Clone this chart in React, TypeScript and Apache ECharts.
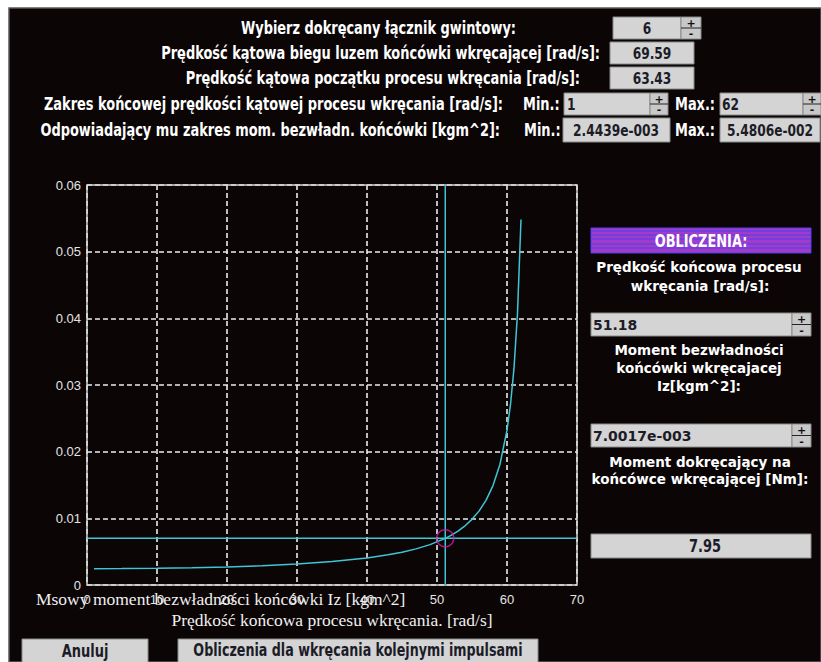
import React, { useEffect, useRef } from "react";
import * as echarts from "echarts";

// ---- data ----
const omega = [1, 5, 10, 15, 20, 25, 30, 35, 40, 43, 45, 47, 49, 51.18, 52, 53, 54, 55, 56, 57, 58, 59, 60, 60.5, 61, 61.5, 62];
const inertia = [
  0.002444, 0.002459, 0.002506, 0.002588, 0.002713, 0.002893, 0.003148, 0.003513, 0.004057, 0.004521,
  0.00492, 0.005419, 0.00606, 0.0070017, 0.007452, 0.008096, 0.008878, 0.009848, 0.01108, 0.012697,
  0.014911, 0.018128, 0.023225, 0.027079, 0.032521, 0.040784, 0.05483,
];
const selectedOmega = 51.18;
const selectedInertia = 0.0070017;
const xTicks = [0, 10, 20, 30, 40, 50, 60, 70];
const yTicks = [0, 0.01, 0.02, 0.03, 0.04, 0.05, 0.06];

const topLabels = [
  "Wybierz dokręcany łącznik gwintowy:",
  "Prędkość kątowa biegu luzem końcówki wkręcającej [rad/s]:",
  "Prędkość kątowa początku procesu wkręcania [rad/s]:",
  "Zakres końcowej prędkości kątowej procesu wkręcania [rad/s]:",
  "Odpowiadający mu zakres mom. bezwładn. końcówki [kgm^2]:",
];
const fieldValues = ["6", "69.59", "63.43", "1", "62", "2.4439e-003", "5.4806e-002"];
const resultValues = ["51.18", "7.0017e-003", "7.95"];

const NARROW = "'Liberation Sans Narrow', 'Arial Narrow', 'DejaVu Sans Condensed', sans-serif";
const PANEL = "'DejaVu Sans', 'Liberation Sans', sans-serif";
const SERIF = "'Liberation Serif', 'DejaVu Serif', serif";

function txt(text: string, x: number, y: number, align: string, font: string, fill = "#ffffff", z = 10, sx = 1) {
  return {
    type: "text",
    x,
    y,
    z,
    scaleX: sx,
    silent: true,
    style: {
      text,
      fill,
      font,
      align,
      textAlign: align,
      verticalAlign: "middle",
      textVerticalAlign: "middle",
    },
  };
}

function box(x: number, y: number, w: number, h: number, fill = "#d4d4d4") {
  return {
    type: "rect",
    shape: { x, y, width: w, height: h },
    z: 5,
    silent: true,
    style: { fill, stroke: "#8a8a8a", lineWidth: 1 },
  };
}

function spinner(x: number, y: number, w: number, h: number) {
  return [
    box(x, y, w, h, "#c8c8c8"),
    {
      type: "line",
      z: 6,
      silent: true,
      shape: { x1: x, y1: y + h / 2, x2: x + w, y2: y + h / 2 },
      style: { stroke: "#222", lineWidth: 1 },
    },
    txt("+", x + w / 2, y + h / 4 + 0.5, "center", `bold 11px ${PANEL}`, "#111", 7),
    txt("-", x + w / 2, y + (3 * h) / 4, "center", `bold 11px ${PANEL}`, "#111", 7),
  ];
}

export default function App() {
  const ref = useRef<HTMLDivElement>(null);

  useEffect(() => {
    if (!ref.current) return;
    const chart = echarts.init(ref.current, undefined, { renderer: "svg" });
    const curve = omega.map((w, i) => [w, inertia[i]]);
    const xMin = xTicks[0];
    const xMax = xTicks[xTicks.length - 1];
    const yMin = yTicks[0];
    const yMax = yTicks[yTicks.length - 1];
    const rowY = [28, 53, 78, 104, 130];
    const fTop = `bold 18px ${NARROW}`;
    const fBox = `bold 16px ${NARROW}`;
    const fPanel = `bold 13.5px ${PANEL}`;
    const dark = "#1c1c28";
    const S = 0.8;

    const graphics: any[] = [
      {
        type: "rect",
        z: 0,
        silent: true,
        shape: { x: 9, y: 8, width: 812, height: 654 },
        style: { fill: "#0b0506", stroke: "#5a5a5a", lineWidth: 1.5 },
      },
      // top rows
      txt(topLabels[0], 516, rowY[0], "right", fTop, "#fff", 10, S),
      txt(topLabels[1], 600, rowY[1], "right", fTop, "#fff", 10, S),
      txt(topLabels[2], 580, rowY[2], "right", fTop, "#fff", 10, S),
      txt(topLabels[3], 503, rowY[3], "right", fTop, "#fff", 10, S),
      txt(topLabels[4], 500, rowY[4], "right", fTop, "#fff", 10, S),
      box(613, rowY[0] - 11, 68, 22),
      txt(fieldValues[0], 647, rowY[0], "center", fBox, dark, 10, 0.85),
      ...spinner(681, rowY[0] - 11, 20, 22),
      box(610, rowY[1] - 11, 84, 22),
      txt(fieldValues[1], 652, rowY[1], "center", fBox, dark, 10, 0.85),
      box(610, rowY[2] - 11, 84, 22),
      txt(fieldValues[2], 652, rowY[2], "center", fBox, dark, 10, 0.85),
      txt("Min.:", 523, rowY[3], "left", fTop, "#fff", 10, S),
      box(564, rowY[3] - 11, 86, 22),
      txt(fieldValues[3], 567, rowY[3], "left", fBox, dark, 10, 0.85),
      ...spinner(650, rowY[3] - 11, 18, 22),
      txt("Max.:", 675, rowY[3], "left", fTop, "#fff", 10, S),
      box(720, rowY[3] - 11, 83, 22),
      txt(fieldValues[4], 722, rowY[3], "left", fBox, dark, 10, 0.85),
      ...spinner(803, rowY[3] - 11, 18, 22),
      txt("Min.:", 524, rowY[4], "left", fTop, "#fff", 10, S),
      box(563, rowY[4] - 12, 107, 24),
      txt(fieldValues[5], 616, rowY[4], "center", fBox, dark, 10, 0.85),
      txt("Max.:", 675, rowY[4], "left", fTop, "#fff", 10, S),
      box(720, rowY[4] - 12, 100, 24),
      txt(fieldValues[6], 770, rowY[4], "center", fBox, dark, 10, 0.85),
      // right panel
      {
        type: "rect",
        z: 5,
        silent: true,
        shape: { x: 591, y: 228, width: 220, height: 25 },
        style: { fill: "#a03cc8", stroke: "#5040f0", lineWidth: 1 },
      },
      ...[231, 235, 239, 244, 248].map((yy) => ({
        type: "line",
        z: 6,
        silent: true,
        shape: { x1: 591, y1: yy, x2: 811, y2: yy },
        style: { stroke: "#4a3cf4", lineWidth: 1 },
      })),
      txt("OBLICZENIA:", 701, 241, "center", `bold 18px ${NARROW}`, "#ffffff", 8, S),
      txt("Prędkość końcowa procesu", 699, 267, "center", fPanel),
      txt("wkręcania [rad/s]:", 700, 286, "center", fPanel),
      box(591, 313, 201, 23),
      txt(resultValues[0], 593, 325, "left", `bold 14px ${PANEL}`, dark),
      ...spinner(792, 313, 19, 23),
      txt("Moment bezwładności", 699, 350, "center", fPanel),
      txt("końcówki wkręcajacej", 699, 368, "center", fPanel),
      txt("Iz[kgm^2]:", 699, 386, "center", fPanel),
      box(591, 424, 201, 23),
      txt(resultValues[1], 593, 436, "left", `bold 14px ${PANEL}`, dark),
      ...spinner(792, 424, 19, 23),
      txt("Moment dokręcający na", 700, 462, "center", fPanel),
      txt("końcówce wkręcającej [Nm]:", 700, 479, "center", fPanel),
      box(591, 534, 220, 24),
      txt(resultValues[2], 705, 546, "center", `bold 17px ${NARROW}`, dark, 10, 0.85),
      // axis titles (overlapping, as in the original window)
      txt("Msowy moment bezwładności końcówki Iz [kgm^2]", 36, 599, "left", `17.5px ${SERIF}`, "#f0f0f0", 20),
      txt("Prędkość końcowa procesu wkręcania. [rad/s]", 332, 620, "center", `17.5px ${SERIF}`, "#f0f0f0", 20),
      // buttons
      box(22, 639, 126, 24),
      txt("Anuluj", 85, 651, "center", `bold 17px ${NARROW}`, dark, 10, 0.85),
      box(178, 639, 360, 24),
      txt("Obliczenia dla wkręcania kolejnymi impulsami", 358, 651, "center", `bold 17px ${NARROW}`, dark, 10, 0.83),
    ];

    const cyan = "#3ec6d6";
    chart.setOption({
      animation: false,
      backgroundColor: "#ffffff",
      grid: {
        left: 87,
        top: 185,
        width: 490,
        height: 400,
        show: true,
        borderColor: "#d8d8d8",
        borderWidth: 1.5,
        backgroundColor: "transparent",
        z: 3,
      },
      xAxis: {
        type: "value",
        min: xMin,
        max: xMax,
        interval: 10,
        axisLine: { show: false },
        axisTick: { show: false },
        axisLabel: { color: "#e4e4e4", fontSize: 13, margin: 8, fontFamily: "'Liberation Sans', sans-serif" },
        splitLine: { show: true, lineStyle: { color: "#ececec", width: 1.6, type: [5, 3] } },
      },
      yAxis: {
        type: "value",
        min: yMin,
        max: yMax,
        interval: 0.01,
        axisLine: { show: false },
        axisTick: { show: false },
        axisLabel: {
          color: "#e4e4e4",
          fontSize: 13,
          margin: 6,
          fontFamily: "'Liberation Sans', sans-serif",
          formatter: (v: number) => (v === 0 ? "0" : v.toFixed(2)),
        },
        splitLine: { show: true, lineStyle: { color: "#ececec", width: 1.6, type: [5, 3] } },
      },
      series: [
        {
          type: "line",
          data: [[xMin, selectedInertia], [xMax, selectedInertia]],
          showSymbol: false,
          silent: true,
          z: 4,
          lineStyle: { color: cyan, width: 1.5 },
        },
        {
          type: "line",
          data: [[selectedOmega, yMin], [selectedOmega, yMax]],
          showSymbol: false,
          silent: true,
          z: 4,
          lineStyle: { color: cyan, width: 1.5 },
        },
        {
          type: "line",
          data: curve,
          showSymbol: false,
          silent: true,
          z: 5,
          lineStyle: { color: cyan, width: 1.5 },
        },
        {
          type: "scatter",
          data: [[selectedOmega, selectedInertia]],
          symbol: "circle",
          symbolSize: 17,
          silent: true,
          z: 6,
          itemStyle: { color: "rgba(0,0,0,0)", borderColor: "#d41ea6", borderWidth: 1.5 },
        },
      ],
      graphic: { elements: graphics },
    });
    return () => chart.dispose();
  }, []);

  return (
    <div
      ref={ref}
      style={{ position: "absolute", left: 0, top: 0, width: 821, height: 662 }}
    />
  );
}
